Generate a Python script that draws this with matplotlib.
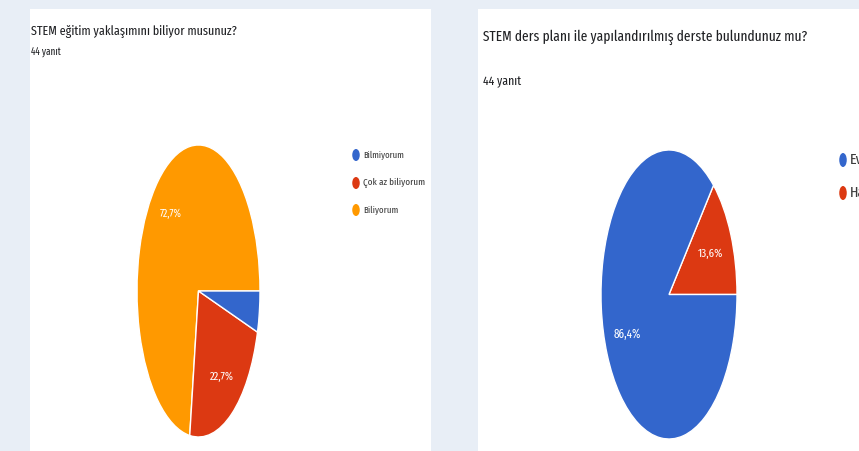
import matplotlib
matplotlib.use("Agg")
import matplotlib.pyplot as plt
from matplotlib.patches import Rectangle, Ellipse

# ---- data ----
left_title = "STEM eğitim yaklaşımını biliyor musunuz?"
left_sub = "44 yanıt"
left_labels = ["Biliyorum", "Çok az biliyorum", "Bilmiyorum"]   # pie order (ccw from 3 o'clock)
left_values = [32, 10, 2]
left_legend = ["Bilmiyorum", "Çok az biliyorum", "Biliyorum"]

right_title = "STEM ders planı ile yapılandırılmış derste bulundunuz mu?"
right_sub = "44 yanıt"
right_labels = ["Hayır", "Evet"]
right_values = [6, 38]
right_legend = ["Evet", "Hayır"]

BLUE, RED, ORANGE = "#3366CC", "#DC3912", "#FF9900"
colors_map = {"Bilmiyorum": BLUE, "Çok az biliyorum": RED, "Biliyorum": ORANGE,
              "Evet": BLUE, "Hayır": RED}
BG = "#E8EEF6"
FONT = ["Fira Sans Extra Condensed", "Roboto Condensed", "Barlow Condensed", "DejaVu Sans"]

W, H = 859, 451
fig = plt.figure(figsize=(W / 100, H / 100), dpi=100)
fig.patch.set_facecolor(BG)

bg = fig.add_axes([0, 0, 1, 1])
bg.set_xlim(0, W)
bg.set_ylim(H, 0)
bg.axis("off")
bg.add_patch(Rectangle((30, 9), 401, 442, facecolor="white", edgecolor="none"))
bg.add_patch(Rectangle((478, 9), 381, 442, facecolor="white", edgecolor="none"))

fits = []


def txt(x, y, s, w, color="#202124", size=10):
    t = bg.text(x, y, s, ha="left", va="center", fontsize=size, color=color, family=FONT)
    fits.append((t, w))
    return t


txt(31, 32, left_title, 206)
txt(31, 53, left_sub, 30)
txt(483, 37, right_title, 324)
txt(483, 82, right_sub, 38)

# legends
left_leg_y = [155, 183, 210]
left_leg_w = [41, 62, 35]
for lab, y, w in zip(left_legend, left_leg_y, left_leg_w):
    bg.add_patch(Ellipse((356, y), 7.5, 12, facecolor=colors_map[lab], edgecolor="none"))
    txt(363, y, lab, w, color="#3c3c3c")

right_leg_y = [160, 193]
for lab, y in zip(right_legend, right_leg_y):
    bg.add_patch(Ellipse((843, y), 7.5, 14, facecolor=colors_map[lab], edgecolor="none"))
    bg.text(850, y, lab, ha="left", va="center", fontsize=11, color="#3c3c3c", family=FONT)


def pct(p):
    return "" if p < 6 else f"{p:.1f}%".replace(".", ",")


def pie_axes(x0, x1, y0, y1):
    return fig.add_axes([x0 / W, (H - y1) / H, (x1 - x0) / W, (y1 - y0) / H])


axl = pie_axes(137, 260, 145, 437)
_, _, autol = axl.pie(left_values, colors=[colors_map[l] for l in left_labels],
                      startangle=0, counterclock=True, autopct=pct, pctdistance=0.7,
                      wedgeprops=dict(edgecolor="white", linewidth=1),
                      textprops=dict(color="white", family=FONT))
axl.set_aspect("auto")
axl.set_xlim(-1, 1)
axl.set_ylim(-1, 1)
axl.axis("off")

axr = pie_axes(601, 737, 150, 439)
_, _, autor = axr.pie(right_values, colors=[colors_map[l] for l in right_labels],
                      startangle=0, counterclock=True, autopct=pct, pctdistance=0.67,
                      wedgeprops=dict(edgecolor="white", linewidth=1),
                      textprops=dict(color="white", family=FONT))
axr.set_aspect("auto")
axr.set_xlim(-1, 1)
axr.set_ylim(-1, 1)
axr.axis("off")

for t, w in zip(autol, [22, 24, 0]):
    if w:
        fits.append((t, w))
for t, w in zip(autor, [25, 27]):
    fits.append((t, w))

fig.canvas.draw()
r = fig.canvas.get_renderer()
for t, w in fits:
    bb = t.get_window_extent(renderer=r)
    if bb.width > 0:
        t.set_fontsize(t.get_fontsize() * w / bb.width)

fig.savefig("out.png", dpi=100, facecolor=BG)
